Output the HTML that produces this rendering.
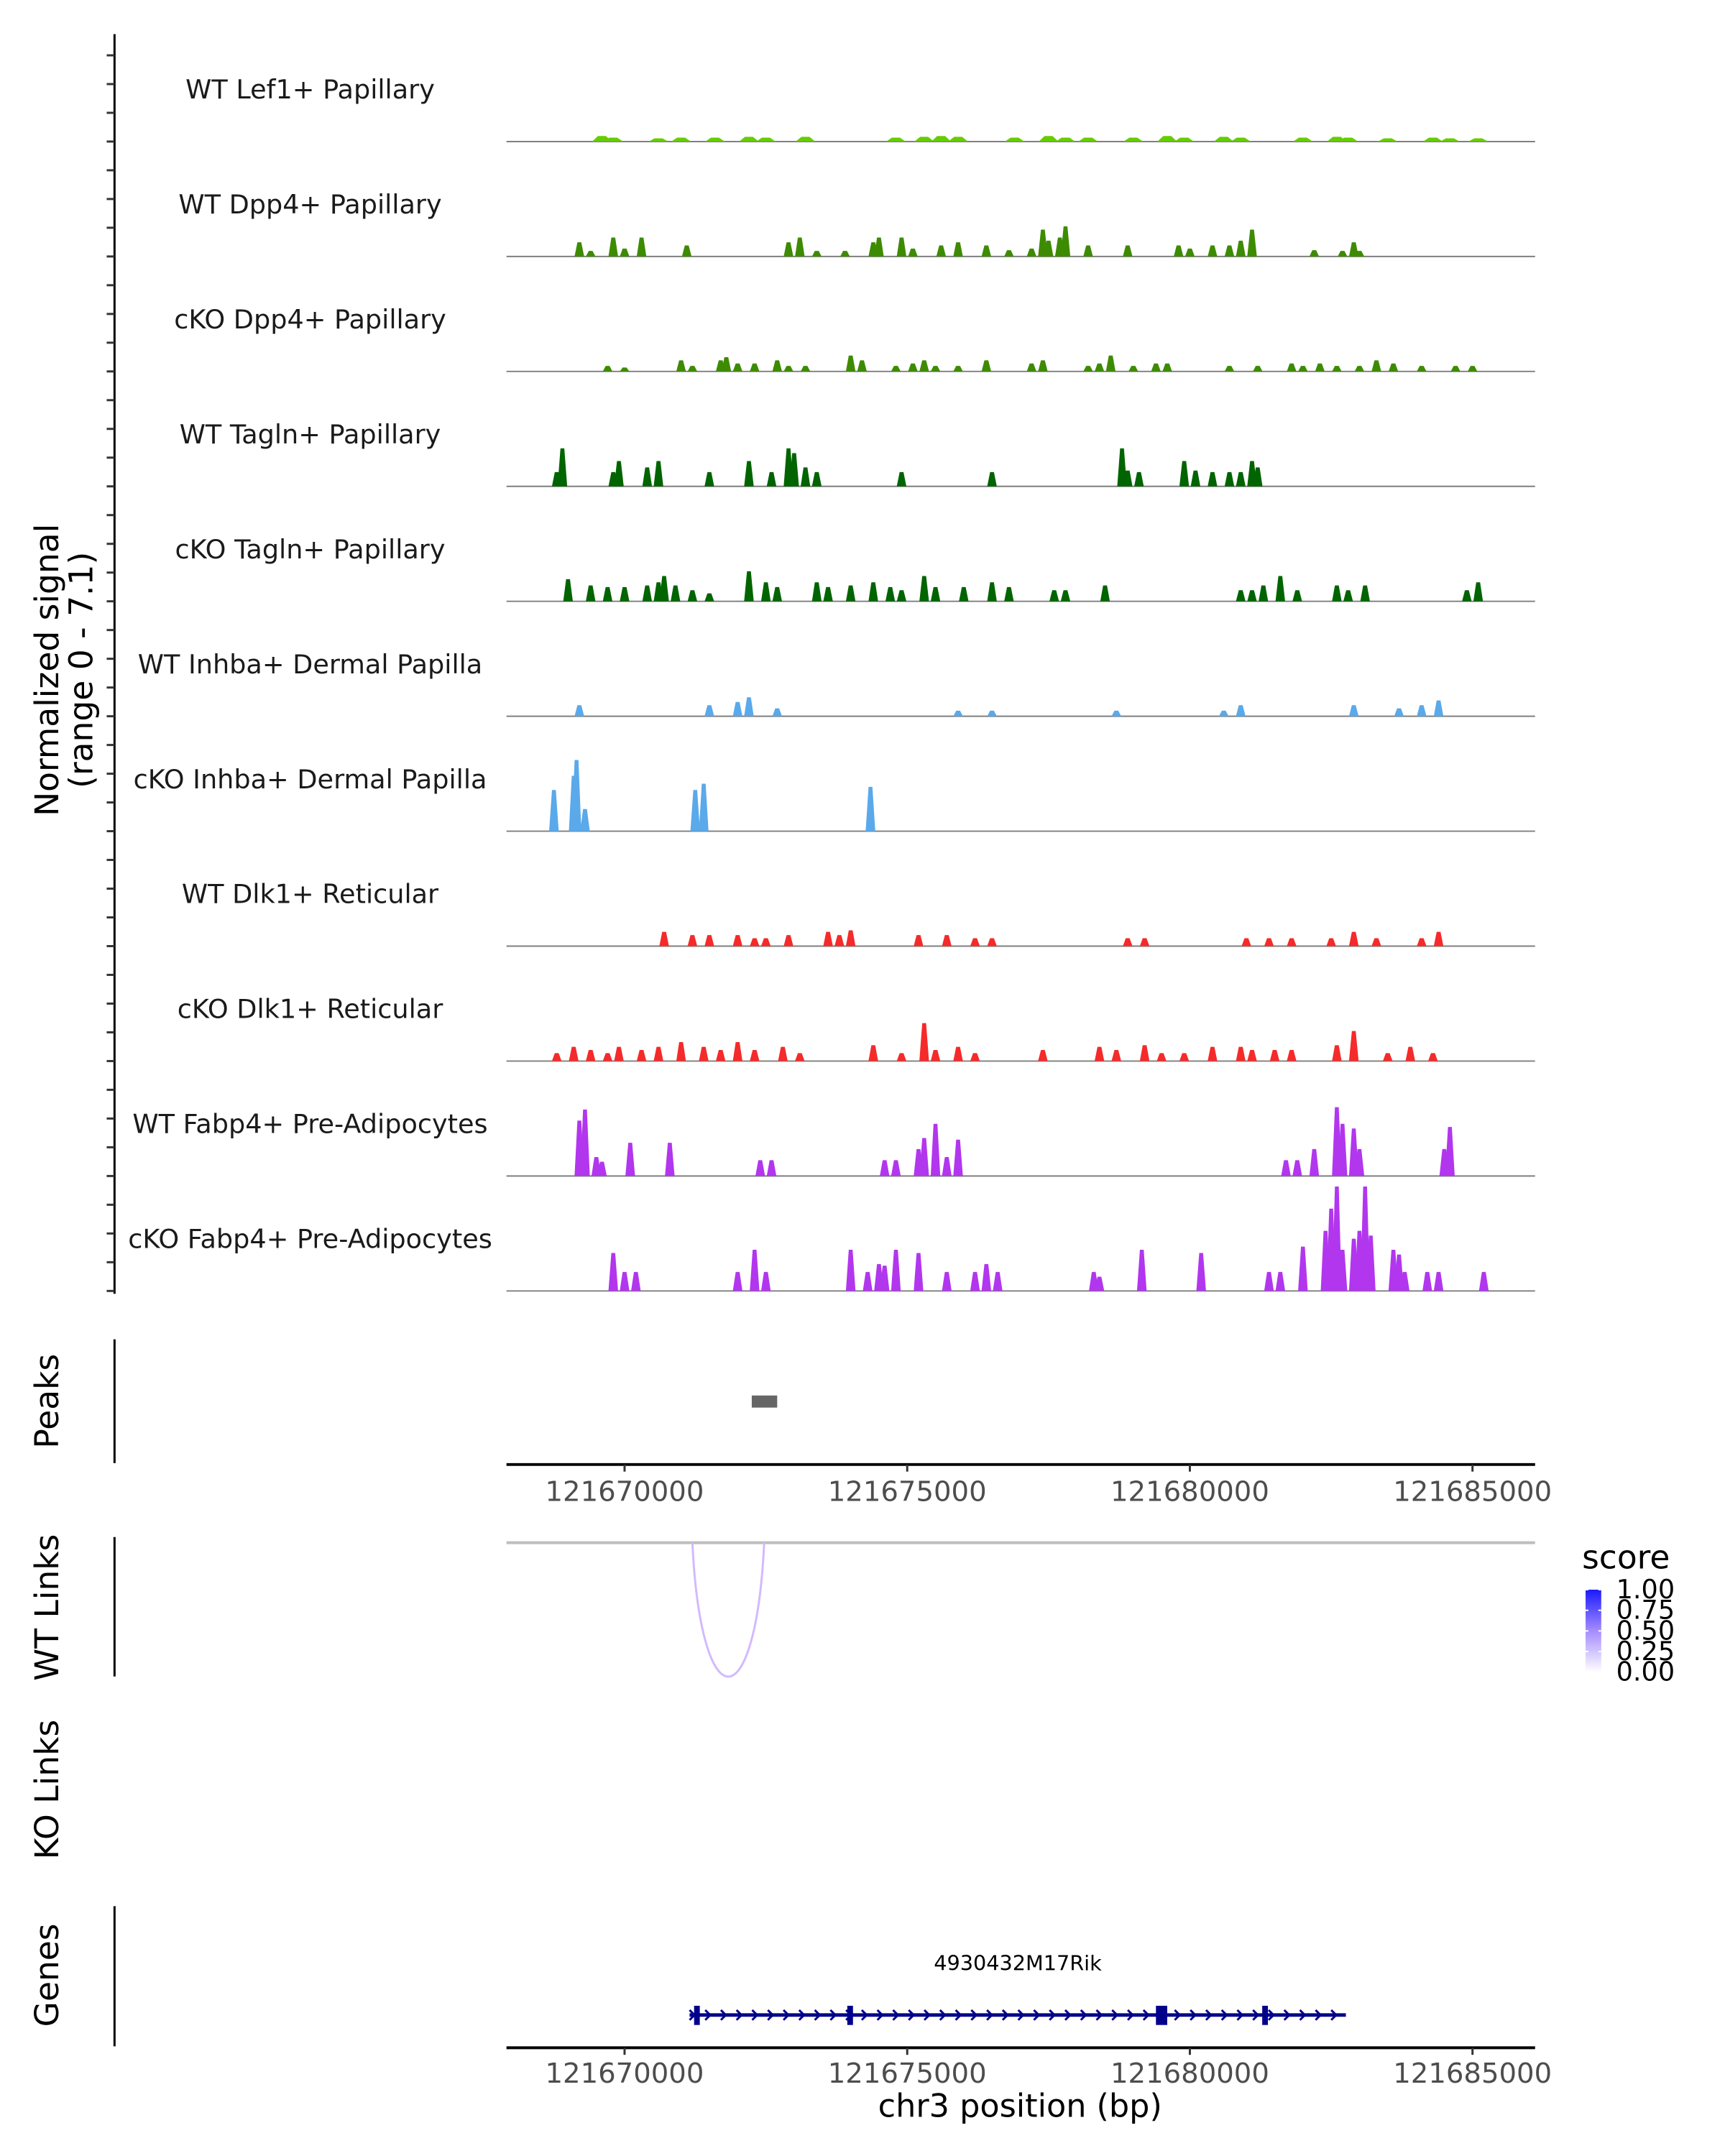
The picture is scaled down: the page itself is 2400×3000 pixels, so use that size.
<!DOCTYPE html>
<html><head><meta charset="utf-8"><style>
html,body{margin:0;padding:0;background:#fff}
svg{display:block;font-family:"DejaVu Sans","Liberation Sans",sans-serif}
</style></head><body>
<svg id="chart" xmlns="http://www.w3.org/2000/svg" width="2400" height="3000" viewBox="0 0 2400 3000">
<rect width="2400" height="3000" fill="#fff"/>
<g id="root" transform="scale(0.9897)">
<g id="tracks"></g>
<g id="axes"></g>
<text transform="translate(82,942) rotate(-90)" text-anchor="middle" font-size="46" fill="#000">Normalized signal</text>
<text transform="translate(130,942) rotate(-90)" text-anchor="middle" font-size="46" fill="#000">(range 0 - 7.1)</text>
<text transform="translate(82,1970) rotate(-90)" text-anchor="middle" font-size="46" fill="#000">Peaks</text>
<text transform="translate(82,2260) rotate(-90)" text-anchor="middle" font-size="46" fill="#000">WT Links</text>
<text transform="translate(82,2516) rotate(-90)" text-anchor="middle" font-size="46" fill="#000">KO Links</text>
<text transform="translate(82,2777) rotate(-90)" text-anchor="middle" font-size="46" fill="#000">Genes</text>
<text x="1434" y="2976" text-anchor="middle" font-size="45" fill="#000">chr3 position (bp)</text>
<g>
<defs><linearGradient id="lg" x1="0" y1="1" x2="0" y2="0"><stop offset="0" stop-color="#ffffff"/><stop offset="0.5" stop-color="#a58cff"/><stop offset="1" stop-color="#1a1aff"/></linearGradient></defs>
<text x="2224" y="2205" font-size="46" fill="#000">score</text>
<rect x="2229" y="2235" width="22" height="116" fill="url(#lg)"/>
<g id="legendLabels"></g>
</g>
</g>
</svg>
<script>
const NS="http://www.w3.org/2000/svg";
const trackNames=["WT Lef1+ Papillary","WT Dpp4+ Papillary","cKO Dpp4+ Papillary","WT Tagln+ Papillary","cKO Tagln+ Papillary","WT Inhba+ Dermal Papilla","cKO Inhba+ Dermal Papilla","WT Dlk1+ Reticular","cKO Dlk1+ Reticular","WT Fabp4+ Pre-Adipocytes","cKO Fabp4+ Pre-Adipocytes"];
const trackColors=["#66cc00","#3d8b00","#3d8b00","#006400","#006400","#5aa9ea","#5aa9ea","#f52a2a","#f52a2a","#b236ee","#b236ee"];
const pos0=[121669600,121669800,121670600,121671000,121671600,121672200,121672500,121673200,121674800,121675300,121675600,121675900,121676900,121677500,121677800,121678200,121679000,121679600,121679900,121680600,121680900,121682000,121682600,121682800,121683500,121684300,121684600,121685100];
const val0=[0.35,0.25,0.2,0.25,0.25,0.3,0.25,0.3,0.25,0.3,0.35,0.3,0.25,0.35,0.25,0.25,0.25,0.35,0.25,0.3,0.25,0.25,0.3,0.25,0.2,0.25,0.2,0.2];
const pos1=[121669200,121669400,121669800,121670000,121670300,121671100,121672900,121673100,121673400,121673900,121674400,121674500,121674900,121675100,121675600,121675900,121676400,121676800,121677200,121677400,121677500,121677700,121677800,121678200,121678900,121679800,121680000,121680400,121680700,121680900,121681100,121682200,121682700,121682900,121683000];
const val1=[0.9,0.35,1.2,0.5,1.2,0.7,0.9,1.2,0.35,0.35,0.9,1.2,1.2,0.5,0.7,0.9,0.7,0.4,0.5,1.7,1.0,1.2,1.9,0.7,0.7,0.7,0.5,0.7,0.7,1.0,1.7,0.4,0.35,0.9,0.35];
const pos2=[121669700,121670000,121671000,121671200,121671700,121671800,121672000,121672300,121672700,121672900,121673200,121674000,121674200,121674800,121675100,121675300,121675500,121675900,121676400,121677200,121677400,121678200,121678400,121678600,121679000,121679400,121679600,121680700,121681200,121681800,121682000,121682300,121682600,121683000,121683300,121683600,121684100,121684700,121685000];
const val2=[0.35,0.25,0.7,0.35,0.7,0.9,0.5,0.5,0.7,0.35,0.35,1.0,0.7,0.35,0.5,0.7,0.35,0.35,0.7,0.5,0.7,0.35,0.5,1.0,0.35,0.5,0.5,0.35,0.35,0.5,0.35,0.5,0.35,0.35,0.7,0.5,0.35,0.35,0.35];
const pos3=[121668800,121668900,121669800,121669900,121670400,121670600,121671500,121672200,121672600,121672900,121673000,121673200,121673400,121674900,121676500,121678800,121678900,121679100,121679900,121680100,121680400,121680700,121680900,121681100,121681200];
const val3=[0.9,2.4,0.9,1.6,1.2,1.6,0.9,1.6,0.9,2.4,2.1,1.2,0.9,0.9,0.9,2.4,1.0,0.9,1.6,1.0,0.9,0.9,0.9,1.6,1.2];
const pos4=[121669000,121669400,121669700,121670000,121670400,121670600,121670700,121670900,121671200,121671500,121672200,121672500,121672700,121673400,121673600,121674000,121674400,121674700,121674900,121675300,121675500,121676000,121676500,121676800,121677600,121677800,121678500,121680900,121681100,121681300,121681600,121681900,121682600,121682800,121683100,121684900,121685100];
const val4=[1.4,1.0,0.9,0.9,1.0,1.2,1.6,1.0,0.7,0.5,1.9,1.2,0.9,1.2,0.9,1.0,1.2,0.9,0.7,1.6,0.9,0.9,1.2,0.9,0.7,0.7,1.0,0.7,0.7,1.0,1.6,0.7,1.0,0.7,1.0,0.7,1.2];
const pos5=[121669200,121671500,121672000,121672200,121672700,121675900,121676500,121678700,121680600,121680900,121682900,121683700,121684100,121684400];
const val5=[0.7,0.7,0.9,1.2,0.5,0.35,0.35,0.35,0.35,0.7,0.7,0.5,0.7,1.0];
const pos6=[121668750,121669100,121669150,121669300,121671250,121671400,121674350];
const val6=[2.6,3.5,4.5,1.4,2.6,3.0,2.8];
const pos7=[121670700,121671200,121671500,121672000,121672300,121672500,121672900,121673600,121673800,121674000,121675200,121675700,121676200,121676500,121678900,121679200,121681000,121681400,121681800,121682500,121682900,121683300,121684100,121684400];
const val7=[0.9,0.7,0.7,0.7,0.5,0.5,0.7,0.9,0.7,1.0,0.7,0.7,0.5,0.5,0.5,0.5,0.5,0.5,0.5,0.5,0.9,0.5,0.5,0.9];
const pos8=[121668800,121669100,121669400,121669700,121669900,121670300,121670600,121671000,121671400,121671700,121672000,121672300,121672800,121673100,121674400,121674900,121675300,121675500,121675900,121676200,121677400,121678400,121678700,121679200,121679500,121679900,121680400,121680900,121681100,121681500,121681800,121682600,121682900,121683500,121683900,121684300];
const val8=[0.5,0.9,0.7,0.5,0.9,0.7,0.9,1.2,0.9,0.7,1.2,0.7,0.9,0.5,1.0,0.5,2.4,0.7,0.9,0.5,0.7,0.9,0.7,1.0,0.5,0.5,0.9,0.9,0.7,0.7,0.7,1.0,1.9,0.5,0.9,0.5];
const pos9=[121669200,121669300,121669500,121669600,121670100,121670800,121672400,121672600,121674600,121674800,121675200,121675300,121675500,121675700,121675900,121681700,121681900,121682200,121682600,121682700,121682900,121683000,121684500,121684600];
const val9=[3.5,4.2,1.2,0.9,2.1,2.1,1.0,1.0,1.0,1.0,1.7,2.4,3.3,1.2,2.3,1.0,1.0,1.7,4.35,3.3,3.0,1.7,1.7,3.1];
const pos10=[121669800,121670000,121670200,121672000,121672300,121672500,121674000,121674300,121674500,121674600,121674800,121675200,121675700,121676200,121676400,121676600,121678300,121678400,121679150,121680200,121681400,121681600,121682000,121682400,121682500,121682600,121682700,121682900,121683000,121683100,121683200,121683600,121683700,121683800,121684200,121684400,121685200];
const val10=[2.4,1.2,1.2,1.2,2.6,1.2,2.6,1.2,1.7,1.6,2.6,2.4,1.2,1.2,1.7,1.2,1.2,0.9,2.6,2.4,1.2,1.2,2.8,3.8,5.2,6.6,2.6,3.3,3.8,6.6,3.5,2.6,2.3,1.2,1.2,1.2,1.2];
const trackPos=[pos0,pos1,pos2,pos3,pos4,pos5,pos6,pos7,pos8,pos9,pos10];
const trackVal=[val0,val1,val2,val3,val4,val5,val6,val7,val8,val9,val10];
const xTicks=[121670000,121675000,121680000,121685000];
const peakStart=[121672250];
const peakEnd=[121672700];
const linkStart=[121671200];
const linkEnd=[121672470];
const linkScore=[0.2];
const geneStart=121671150, geneEnd=121682760;
const exonStart=[121671230,121673940,121679400,121681280];
const exonEnd=[121671330,121674040,121679600,121681340];
const legendVals=[1.00,0.75,0.50,0.25,0.00];

const X0=712,X1=2158,D0=121667911,D1=121686107;
const xs=v=>X0+(v-D0)/(D1-D0)*(X1-X0);
const YMAX=7.1, TH=158;
const ys=(base,v)=>base-v/YMAX*TH;
const base=i=>199+i*161.6;
function mk(tag,attrs,parent){const e=document.createElementNS(NS,tag);for(const k in attrs)e.setAttribute(k,attrs[k]);parent.appendChild(e);return e;}
const tracks=document.getElementById('tracks');
const axes=document.getElementById('axes');
const svg=document.getElementById('root');

trackNames.forEach((nm,i)=>{
  const g=mk('g',{},tracks);
  
  
  const b=base(i);
  const t=mk('text',{x:436,y:b-71,'text-anchor':'middle','dominant-baseline':'middle','font-size':37,fill:'#1a1a1a'},g);
  t.textContent=nm;
  
  
  const bl=mk('line',{x1:X0,x2:X1,y1:b,y2:b,stroke:'#7f7f7f','stroke-width':2},g);
  
  
  const P=trackPos[i],V=trackVal[i];
  for(let j=0;j<P.length;j++){
    const w=(i===0?350:170);
    const xa=xs(P[j]-w/2),xb=xs(P[j]+w/2),yt=ys(b,V[j]);
    const wp=xb-xa;
    const p=mk('polygon',{points:`${xa},${b} ${xa+wp*0.3},${yt} ${xb-wp*0.3},${yt} ${xb},${b}`,fill:trackColors[i]},g);
    
    
  }
});
mk('line',{x1:161,x2:161,y1:48,y2:1819,stroke:'#000','stroke-width':3},axes);
for(let i=0;i<11;i++)for(let k=0;k<4;k++){const y=base(i)-k*40.4;mk('line',{x1:150,x2:161,y1:y,y2:y,stroke:'#333','stroke-width':3},axes);}
mk('line',{x1:161,x2:161,y1:1883,y2:2057,stroke:'#000','stroke-width':3},axes);
mk('line',{x1:161,x2:161,y1:2161,y2:2357,stroke:'#000','stroke-width':3},axes);
mk('line',{x1:161,x2:161,y1:2680,y2:2877,stroke:'#000','stroke-width':3},axes);
peakStart.forEach((s,i)=>{const r=mk('rect',{x:xs(s),y:1962,width:xs(peakEnd[i])-xs(s),height:17,fill:'#666'},svg);

});
[[2059,2110],[2879,2928]].forEach(([ly,ty],n)=>{
  const l=mk('line',{x1:X0,x2:X1,y1:ly,y2:ly,stroke:'#000','stroke-width':4},axes);
  
  
  xTicks.forEach(v=>{
    mk('line',{x1:xs(v),x2:xs(v),y1:ly,y2:ly+10,stroke:'#333','stroke-width':3},axes);
    const t=mk('text',{x:xs(v),y:ty,'text-anchor':'middle','font-size':39,fill:'#4d4d4d'},axes);
    t.textContent=String(v);
    
    
  });
});
mk('line',{x1:X0,x2:X1,y1:2169,y2:2169,stroke:'#bebebe','stroke-width':4},svg);
linkStart.forEach((s,i)=>{
  const a=xs(s),b=xs(linkEnd[i]);
  const p=mk('path',{d:`M${a},2169 C${a+(b-a)*0.12},2420 ${b-(b-a)*0.12},2420 ${b},2169`,fill:'none',stroke:'#d2b9ff','stroke-width':3},svg);
  
  
});
const gg=mk('g',{},svg);


const gn=mk('text',{x:(xs(geneStart)+xs(geneEnd))/2,y:2770,'text-anchor':'middle','font-size':29,fill:'#000'},gg);
gn.textContent='4930432M17Rik';
mk('line',{x1:xs(geneStart),x2:xs(geneEnd),y1:2833,y2:2833,stroke:'#00008b','stroke-width':5},gg);
for(let x=xs(geneStart)+4;x<xs(geneEnd);x+=22){mk('polyline',{points:`${x-4},${2826} ${x+3},${2833} ${x-4},${2840}`,fill:'none',stroke:'#00008b','stroke-width':3},gg);}
exonStart.forEach((s,i)=>{const w=Math.max(xs(exonEnd[i])-xs(s),8);mk('rect',{x:xs(s),y:2820,width:w,height:27,fill:'#00008b'},gg);});
const ll=document.getElementById('legendLabels');
legendVals.forEach(v=>{const y=2235+(1-v)*116;
mk('line',{x1:2229,x2:2233,y1:y,y2:y,stroke:'#fff','stroke-width':2},ll);
mk('line',{x1:2247,x2:2251,y1:y,y2:y,stroke:'#fff','stroke-width':2},ll);
const t=mk('text',{x:2272,y:y+12,'font-size':37,fill:'#000'},ll);t.textContent=v.toFixed(2);

});
</script>
</body></html>
